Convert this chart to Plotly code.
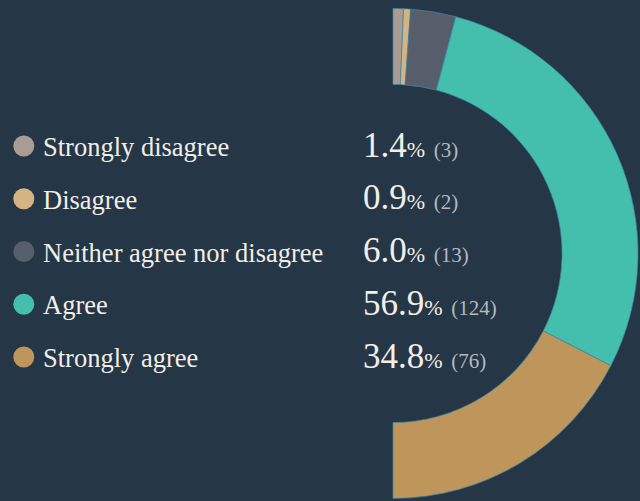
import plotly.graph_objects as go

categories = ["Strongly disagree", "Disagree", "Neither agree nor disagree", "Agree", "Strongly agree"]
counts = [3, 2, 13, 124, 76]
percent_labels = ["1.4", "0.9", "6.0", "56.9", "34.8"]
colors = ["#a89c94", "#d4b483", "#575e6b", "#44bfae", "#be955a"]

BG = "#253646"
FONT = "Liberation Serif"
total = sum(counts)

fig = go.Figure()

# Half donut: visible slices plus a transparent slice for the other half
fig.add_trace(go.Pie(
    values=counts + [total],
    labels=categories + ["_hidden"],
    marker=dict(colors=colors + ["rgba(0,0,0,0)"],
                line=dict(color=["#3f87a8"] * len(counts) + ["rgba(0,0,0,0)"], width=0.7)),
    sort=False,
    direction="clockwise",
    rotation=0,
    hole=0.69,
    textinfo="none",
    hoverinfo="none",
    showlegend=False,
    domain=dict(x=[148/640, 638/640], y=[1 - 499/501, 1 - 8/501]),
))

# Legend markers on hidden axes
idx = list(range(len(categories)))
fig.add_trace(go.Scatter(
    x=[23.8] * len(categories), y=idx, mode="markers",
    marker=dict(size=21, color=colors, line=dict(width=0)),
    hoverinfo="skip", showlegend=False,
))

for i, (cat, pct, n) in enumerate(zip(categories, percent_labels, counts)):
    fig.add_annotation(x=40.5, y=i, xref="x", yref="y", text=cat, showarrow=False,
                       xanchor="left", yanchor="middle", yshift=-1,
                       font=dict(family=FONT, size=26.5, color="#f2eee8"))
    fig.add_annotation(
        x=361, y=i, xref="x", yref="y", showarrow=False, xanchor="left", yanchor="middle",
        yshift=1,
        text=(f"<span style='font-size:35px'>{pct}</span>"
              f"<span style='font-size:22px'>%</span> "
              f"<span style='font-size:21px;color:#b3b9be'>({n})</span>"),
        font=dict(family=FONT, size=35, color="#f2eee8"))

px_per = 52.75
fig.update_layout(
    width=640, height=501,
    margin=dict(l=0, r=0, t=0, b=0),
    paper_bgcolor=BG, plot_bgcolor="rgba(0,0,0,0)",
    font=dict(family=FONT),
    xaxis=dict(range=[0, 640], domain=[0, 1], visible=False, fixedrange=True),
    yaxis=dict(range=[(501 - 146) / px_per, -146 / px_per], domain=[0, 1], visible=False, fixedrange=True),
    showlegend=False,
)

fig.write_html("out.html")
